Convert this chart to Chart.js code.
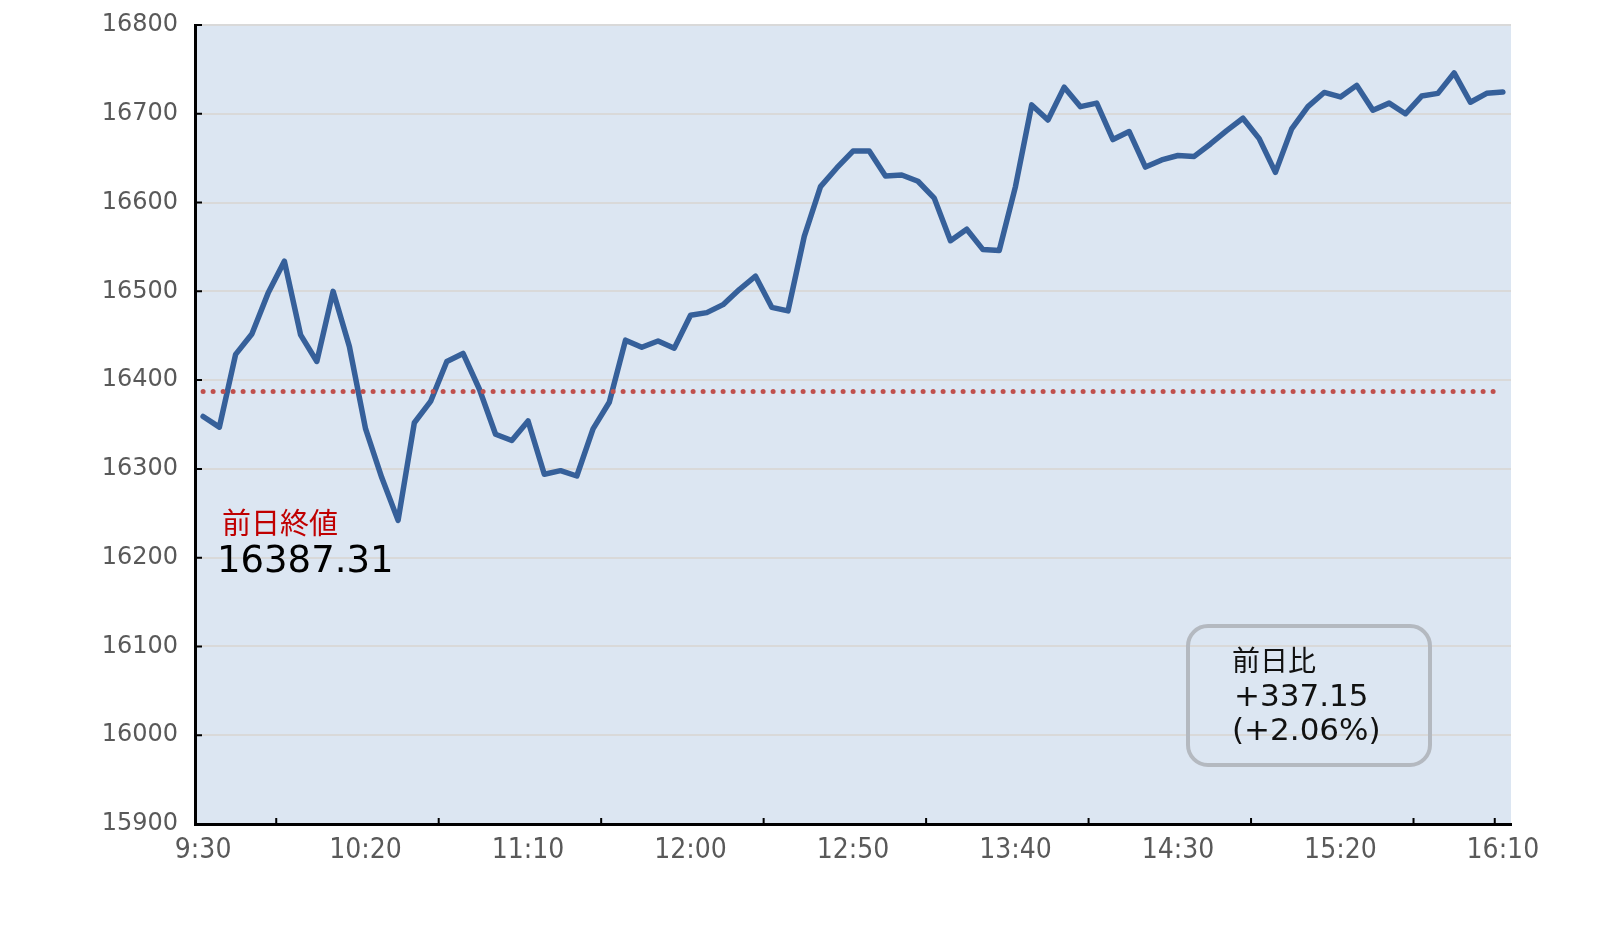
<!DOCTYPE html>
<html lang="ja">
<head>
<meta charset="utf-8">
<title>日経平均 日中推移</title>
<script src="https://cdn.jsdelivr.net/npm/chart.js@4.4.1/dist/chart.umd.min.js"></script>
<style>
  html, body { margin: 0; padding: 0; background: #fff; }
  #wrap { width: 1606px; height: 932px; position: relative; }
</style>
</head>
<body>
<div id="wrap"><canvas id="priceChart"></canvas></div>
<script>
  // 5-minute steps, 9:30 - 16:10
  const times = [
    '9:30', '9:35', '9:40', '9:45', '9:50', '9:55',
    '10:00', '10:05', '10:10', '10:15', '10:20', '10:25', '10:30', '10:35', '10:40', '10:45', '10:50', '10:55',
    '11:00', '11:05', '11:10', '11:15', '11:20', '11:25', '11:30', '11:35', '11:40', '11:45', '11:50', '11:55',
    '12:00', '12:05', '12:10', '12:15', '12:20', '12:25', '12:30', '12:35', '12:40', '12:45', '12:50', '12:55',
    '13:00', '13:05', '13:10', '13:15', '13:20', '13:25', '13:30', '13:35', '13:40', '13:45', '13:50', '13:55',
    '14:00', '14:05', '14:10', '14:15', '14:20', '14:25', '14:30', '14:35', '14:40', '14:45', '14:50', '14:55',
    '15:00', '15:05', '15:10', '15:15', '15:20', '15:25', '15:30', '15:35', '15:40', '15:45', '15:50', '15:55',
    '16:00', '16:05', '16:10'
  ];

  const prices = [
    16359, 16347, 16429, 16452, 16498, 16534, 16451, 16421, 16500, 16438,
    16345, 16290, 16242, 16352, 16376, 16421, 16430, 16390, 16339, 16332,
    16354, 16294, 16298, 16292, 16345, 16375, 16445, 16437, 16444, 16436,
    16473, 16476, 16485, 16502, 16517, 16482, 16478, 16562, 16618, 16639,
    16658, 16658, 16630, 16631, 16624, 16605, 16557, 16570, 16547, 16546,
    16618, 16710, 16693, 16730, 16708, 16712, 16671, 16680, 16640, 16648,
    16653, 16652, 16666, 16681, 16695, 16672, 16634, 16683, 16708, 16724,
    16719, 16732, 16704, 16712, 16700, 16720, 16723, 16746, 16713, 16723,
    16724.46
  ];

  const prevClose = 16387.31;
  const change = '+337.15';
  const changePct = '(+2.06%)';

  const yMin = 15900;
  const yMax = 16800;
  const yStep = 100;
  const labelEvery = 10;              // a time label every 50 minutes
  const tickMarkAt = [5, 15, 25, 35, 45, 55, 65, 75, 80];   // category boundaries with a tick mark

  const numFont = '"DejaVu Sans", Verdana, sans-serif';
  const jpFont = '"Noto Sans CJK JP", "Noto Sans", sans-serif';

  const chartDecor = {
    id: 'chartDecor',
    beforeDraw(chart) {
      const { ctx, chartArea: a } = chart;
      ctx.save();
      ctx.fillStyle = '#dce6f2';
      ctx.fillRect(a.left, a.top, a.right - a.left, a.bottom - a.top);
      ctx.restore();
    },
    afterDraw(chart) {
      const { ctx, chartArea: a, scales: { x, y } } = chart;
      ctx.save();

      // inward tick marks
      ctx.strokeStyle = '#000';
      ctx.lineWidth = 2;
      ctx.beginPath();
      y.ticks.forEach(t => {
        const py = y.getPixelForValue(t.value);
        ctx.moveTo(a.left, py);
        ctx.lineTo(a.left + 7, py);
      });
      tickMarkAt.forEach(i => {
        const px = (x.getPixelForValue(i - 1) + x.getPixelForValue(i)) / 2;
        ctx.moveTo(px, a.bottom);
        ctx.lineTo(px, a.bottom - 6);
      });
      ctx.stroke();

      // previous close note
      ctx.textBaseline = 'middle';
      ctx.textAlign = 'left';
      ctx.fillStyle = '#c00000';
      ctx.font = '29px ' + jpFont;
      ctx.fillText('前日終値', a.left + 27, a.top + 498);
      ctx.fillStyle = '#000';
      ctx.font = '37px ' + numFont;
      ctx.fillText(prevClose.toFixed(2), a.left + 22, a.top + 537);

      // change box
      const bx = a.left + 993, by = a.top + 601, bw = 242, bh = 139;
      ctx.strokeStyle = '#b4b9c0';
      ctx.lineWidth = 4;
      ctx.beginPath();
      ctx.roundRect(bx, by, bw, bh, 20);
      ctx.stroke();

      ctx.fillStyle = '#111';
      ctx.font = '28px ' + jpFont;
      ctx.fillText('前日比', bx + 44, by + 34);
      ctx.font = '31px ' + numFont;
      ctx.fillText(change, bx + 46, by + 72);
      ctx.fillText(changePct, bx + 44, by + 106);

      ctx.restore();
    }
  };

  const ctx = document.getElementById('priceChart').getContext('2d');
  new Chart(ctx, {
    type: 'line',
    data: {
      labels: times,
      datasets: [
        {
          label: '株価',
          data: prices,
          borderColor: '#36609a',
          borderWidth: 5.5,
          borderJoinStyle: 'round',
          borderCapStyle: 'round',
          pointRadius: 0,
          tension: 0,
          fill: false,
          order: 1
        },
        {
          label: '前日終値',
          data: [
            { x: times[0], y: prevClose },
            { x: times[times.length - 1], y: prevClose }
          ],
          borderColor: '#c0504d',
          borderWidth: 5,
          borderDash: [0, 10],
          borderCapStyle: 'round',
          pointRadius: 0,
          fill: false,
          order: 0
        }
      ]
    },
    options: {
      responsive: true,
      maintainAspectRatio: false,
      animation: false,
      layout: { autoPadding: false, padding: { left: 0, right: 95, top: 25, bottom: 0 } },
      plugins: {
        legend: { display: false },
        tooltip: { enabled: false }
      },
      scales: {
        x: {
          type: 'category',
          offset: true,
          grid: { display: false, drawTicks: false },
          border: { display: true, color: '#000', width: 3 },
          ticks: {
            autoSkip: false,
            maxRotation: 0,
            padding: 10,
            color: '#595959',
            font: { family: '"Liberation Sans Narrow", "DejaVu Sans Condensed", sans-serif', size: 28 },
            callback: function (val, i) { return i % labelEvery === 0 ? this.getLabelForValue(val) : ''; }
          },
          afterFit: s => { s.height = 108; s.paddingLeft = 0; s.paddingRight = 0; }
        },
        y: {
          min: yMin,
          max: yMax,
          grid: { color: '#d9d9d9', lineWidth: 2, drawTicks: false },
          border: { display: true, color: '#000', width: 3 },
          ticks: {
            stepSize: yStep,
            padding: 17,
            color: '#595959',
            font: { family: numFont, size: 24 },
            callback: v => String(v)
          },
          afterFit: s => { s.width = 195; s.paddingTop = 0; s.paddingBottom = 0; }
        }
      }
    },
    plugins: [chartDecor]
  });
</script>
</body>
</html>
